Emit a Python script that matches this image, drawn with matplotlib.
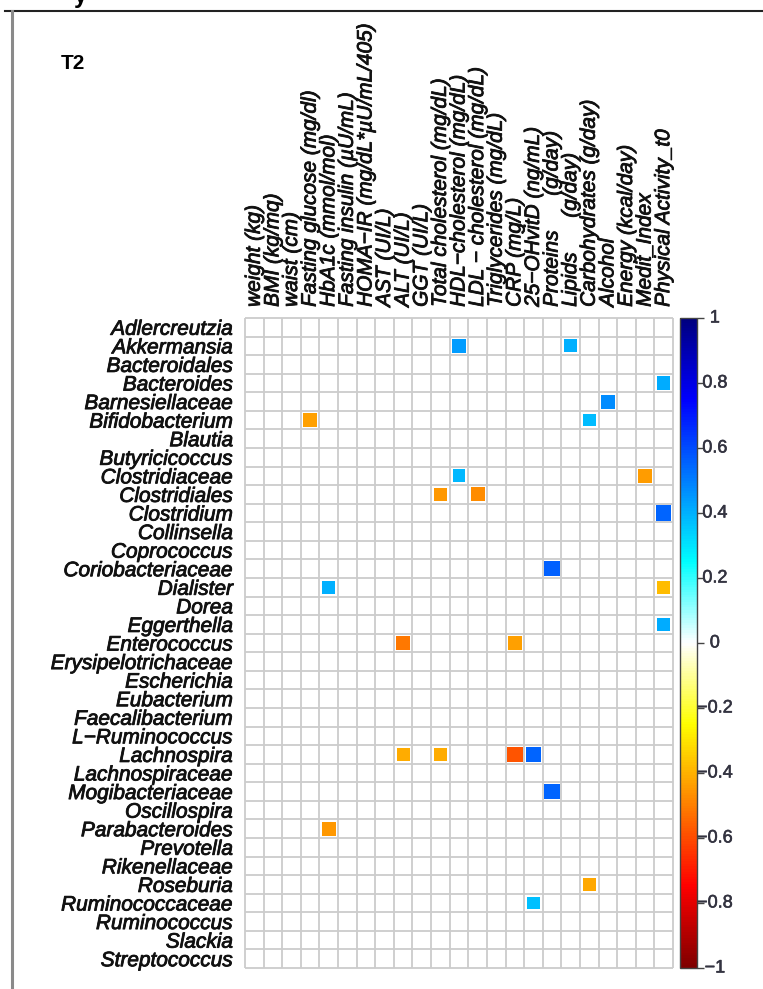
import numpy as np
import matplotlib.pyplot as plt
import matplotlib.patheffects as pe
from matplotlib.colors import LinearSegmentedColormap, Normalize
from matplotlib.patches import Rectangle
from matplotlib.lines import Line2D
from matplotlib.transforms import blended_transform_factory
import matplotlib.cm as cm

taxa = ["Adlercreutzia", "Akkermansia", "Bacteroidales", "Bacteroides",
        "Barnesiellaceae", "Bifidobacterium", "Blautia", "Butyricicoccus",
        "Clostridiaceae", "Clostridiales", "Clostridium", "Collinsella",
        "Coprococcus", "Coriobacteriaceae", "Dialister", "Dorea",
        "Eggerthella", "Enterococcus", "Erysipelotrichaceae", "Escherichia",
        "Eubacterium", "Faecalibacterium", "L\u2212Ruminococcus", "Lachnospira",
        "Lachnospiraceae", "Mogibacteriaceae", "Oscillospira", "Parabacteroides",
        "Prevotella", "Rikenellaceae", "Roseburia", "Ruminococcaceae",
        "Ruminococcus", "Slackia", "Streptococcus"]

variables = ["weight (kg)", "BMI (kg/mq)", "waist (cm)", "Fasting glucose (mg/dl)",
             "HbA1c (mmol/mol)", "Fasting insulin (\u00b5U/mL)",
             "HOMA\u2212IR (mg/dL*\u00b5U/mL/405)", "AST (UI/L)", "ALT (UI/L)",
             "GGT (UI/L)", "Total cholesterol (mg/dL)", "HDL\u2212cholesterol (mg/dL)",
             "LDL \u2212 cholesterol (mg/dL)", "Triglycerides (mg/dL)", "CRP (mg/L)",
             "25\u2212OHvitD (ng/mL)", "Proteins      (g/day)", "Lipids      (g/day)",
             "Carbohydrates (g/day)", "Alcohol", "Energy (kcal/day)", "Medit_Index",
             "Physical Activity_t0"]

# significant correlations only (taxon, variable index, r)
sig_taxon = ["Akkermansia", "Akkermansia", "Bacteroides", "Barnesiellaceae",
             "Bifidobacterium", "Bifidobacterium", "Clostridiaceae", "Clostridiaceae",
             "Clostridiales", "Clostridiales", "Clostridium", "Coriobacteriaceae",
             "Dialister", "Dialister", "Eggerthella", "Enterococcus", "Enterococcus",
             "Lachnospira", "Lachnospira", "Lachnospira", "Lachnospira",
             "Mogibacteriaceae", "Parabacteroides", "Roseburia", "Ruminococcaceae"]
sig_var = [11, 17, 22, 19,
           3, 18, 11, 21,
           10, 12, 22, 16,
           4, 22, 22, 8, 14,
           8, 10, 14, 15,
           16, 4, 18, 15]
sig_r = [0.44, 0.40, 0.41, 0.47,
         -0.43, 0.38, 0.39, -0.44,
         -0.45, -0.47, 0.55, 0.56,
         0.40, -0.38, 0.41, -0.51, -0.43,
         -0.41, -0.41, -0.58, 0.55,
         0.55, -0.45, -0.42, 0.37]

corr_cols = ["#7F0000", "#FF0000", "#FF7F00", "#FFFF00", "#FFFFFF",
             "#00FFFF", "#007FFF", "#0000FF", "#00007F"]
cmap = LinearSegmentedColormap.from_list("corr", corr_cols, N=256)
norm = Normalize(-1, 1)

W, H = 763, 989
plt.rcParams['font.family'] = ['Liberation Sans', 'DejaVu Sans']
fig = plt.figure(figsize=(W / 100, H / 100), dpi=100)
heavy = [pe.withStroke(linewidth=0.6, foreground="#111111")]


def box(x0, y0, x1, y1):
    return [x0 / W, 1 - y1 / H, (x1 - x0) / W, (y1 - y0) / H]


nr, nc = len(taxa), len(variables)
ax = fig.add_axes(box(245, 318, 673, 968))
ax.set_xlim(0, nc)
ax.set_ylim(nr, 0)
ax.hlines(np.arange(nr + 1), 0, nc, color="#cccccc", lw=1.3, clip_on=False)
ax.vlines(np.arange(nc + 1), 0, nr, color="#cccccc", lw=1.3, clip_on=False)

for t, v, r in zip(sig_taxon, sig_var, sig_r):
    i = taxa.index(t)
    s = min(0.9, 1.1 * np.sqrt(abs(r)))
    ax.add_patch(Rectangle((v + 0.5 - s / 2, i + 0.5 - s / 2), s, s,
                           facecolor=cmap(norm(r)), edgecolor="none", zorder=3))

for sp in ax.spines.values():
    sp.set_visible(False)
ax.xaxis.tick_top()
ax.set_xticks(np.arange(nc) + 0.5)
ax.set_xticklabels(variables, rotation=90, fontsize=15, style="italic", color="#111111")
ax.set_yticks(np.arange(nr) + 0.5)
ax.set_yticklabels(taxa, fontsize=15, style="italic", color="#111111")
for lab in ax.get_xticklabels() + ax.get_yticklabels():
    lab.set_path_effects(heavy)
ax.tick_params(axis="x", length=0, pad=8)
ax.tick_params(axis="y", length=0, pad=8.5)

# colour legend
cax = fig.add_axes(box(680, 318, 697, 968))
sm = cm.ScalarMappable(norm=norm, cmap=cmap)
ticks = np.round(np.arange(-1, 1.01, 0.2), 1)
cb = fig.colorbar(sm, cax=cax, ticks=ticks)
cb.outline.set_edgecolor("#444444")
cb.outline.set_linewidth(1.0)
cax.tick_params(length=5, width=1, color="#444444", labelright=False)
tr = blended_transform_factory(cax.transAxes, cax.transData)
for t in ticks:
    lab = "0" if t == 0 else ("%g" % t).replace("-", "\u2212")
    cax.text(2.05, t, lab, transform=tr, ha="center", va="center",
             fontsize=13, color="#333340",
             path_effects=[pe.withStroke(linewidth=0.4, foreground="#333340")])

fig.text(61 / W, 1 - 69 / H, "T2", fontsize=15, fontweight="bold", va="baseline")
fig.text(74 / W, 1 - 3 / H, "y", fontsize=17, fontweight="bold", va="baseline")
fig.add_artist(Line2D([5 / W, 1], [1 - 10.5 / H] * 2, color="#222222", lw=1.5))
fig.add_artist(Line2D([12 / W] * 2, [0, 1 - 11 / H], color="#8a8a8a", lw=2.2))

fig.savefig("out.png", dpi=100)
